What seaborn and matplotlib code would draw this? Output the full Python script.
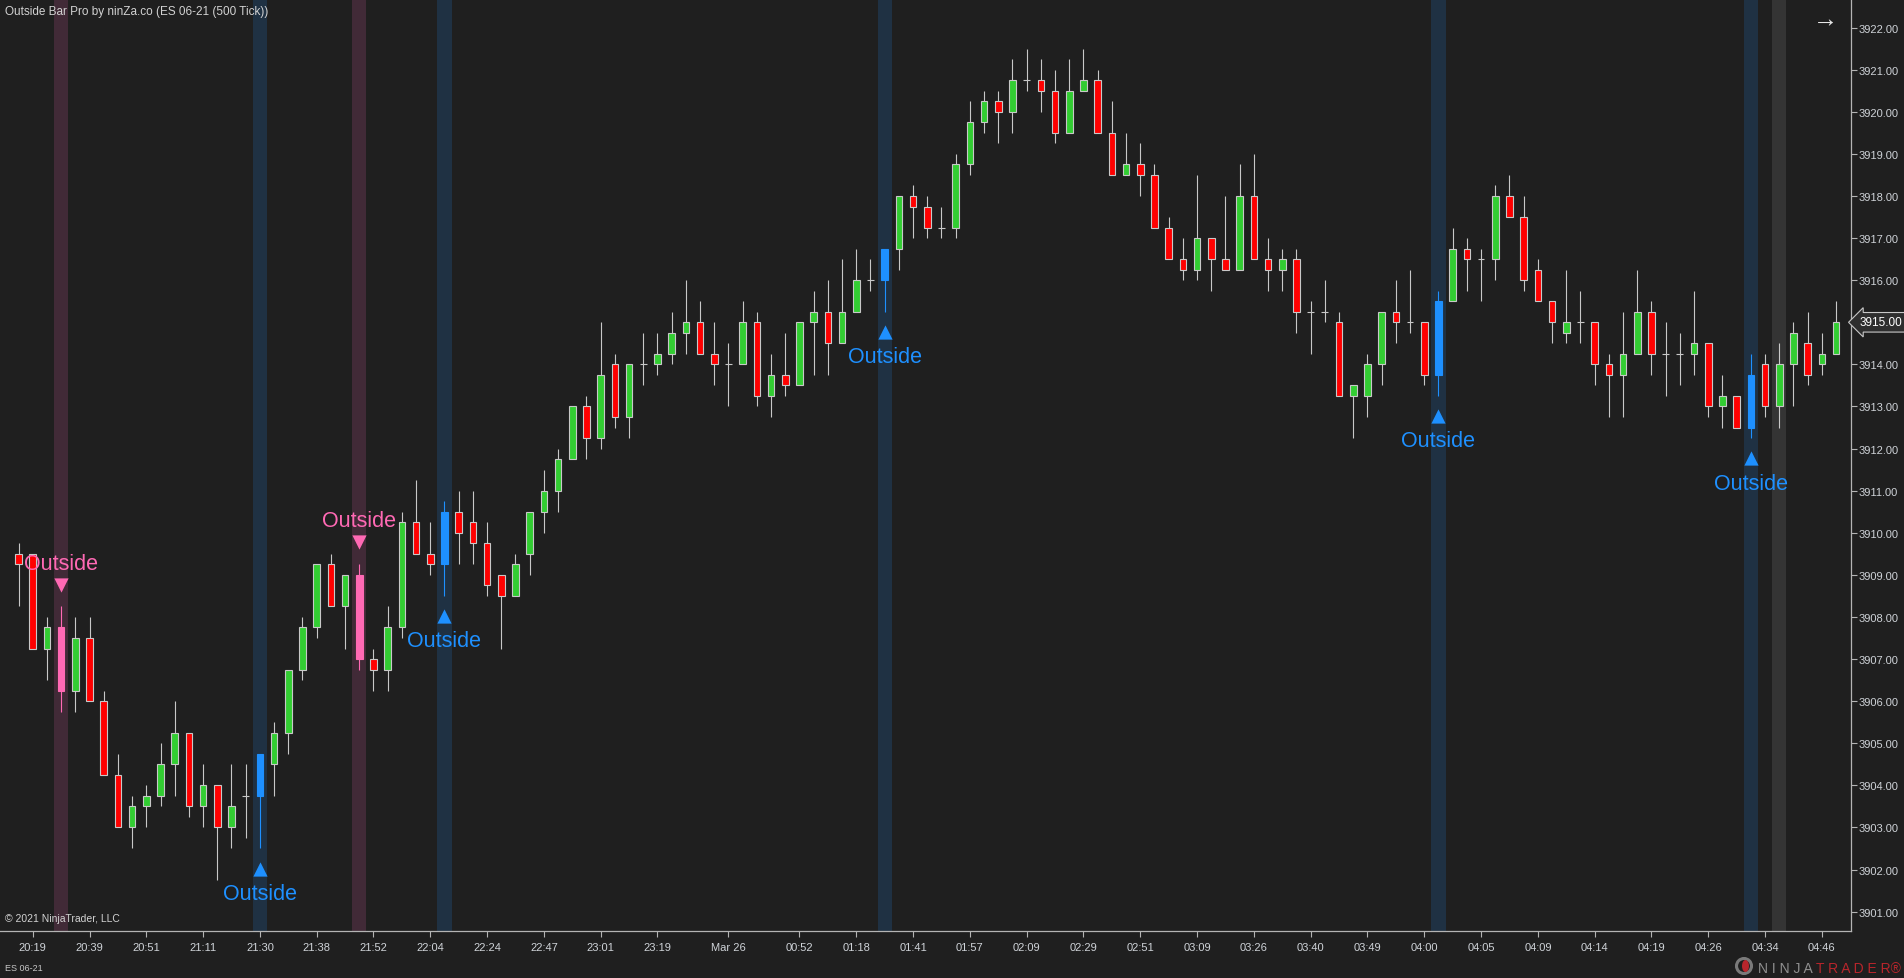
import matplotlib
matplotlib.use("Agg")
import matplotlib.pyplot as plt
import matplotlib.transforms as mtransforms
import matplotlib.patches as mpatches
import numpy as np
import pandas as pd
import seaborn as sns

# ES 06-21, 500 tick bars
opens = [3909.5, 3909.5, 3907.25, 3907.75, 3906.25, 3907.5, 3906.0, 3904.25, 3903.0, 3903.5,
         3903.75, 3904.5, 3905.25, 3903.5, 3904.0, 3903.0, 3903.75, 3903.75, 3904.5, 3905.25,
         3906.75, 3907.75, 3909.25, 3908.25, 3909.0, 3907.0, 3906.75, 3907.75, 3910.25, 3909.5,
         3909.25, 3910.5, 3910.25, 3909.75, 3909.0, 3908.5, 3909.5, 3910.5, 3911.0, 3911.75,
         3913.0, 3912.25, 3914.0, 3912.75, 3914.0, 3914.0, 3914.25, 3914.75, 3915.0, 3914.25,
         3914.0, 3914.0, 3915.0, 3913.25, 3913.75, 3913.5, 3915.0, 3915.25, 3914.5, 3915.25,
         3916.0, 3916.0, 3916.75, 3918.0, 3917.75, 3917.25, 3917.25, 3918.75, 3919.75, 3920.25,
         3920.0, 3920.75, 3920.75, 3920.5, 3919.5, 3920.5, 3920.75, 3919.5, 3918.5, 3918.75,
         3918.5, 3917.25, 3916.5, 3916.25, 3917.0, 3916.5, 3916.25, 3918.0, 3916.5, 3916.25,
         3916.5, 3915.25, 3915.25, 3915.0, 3913.25, 3913.25, 3914.0, 3915.25, 3915.0, 3915.0,
         3913.75, 3915.5, 3916.75, 3916.5, 3916.5, 3918.0, 3917.5, 3916.25, 3915.5, 3914.75,
         3915.0, 3915.0, 3914.0, 3913.75, 3914.25, 3915.25, 3914.25, 3914.25, 3914.25, 3914.5,
         3913.0, 3913.25, 3912.5, 3914.0, 3913.0, 3914.0, 3914.5, 3914.0, 3914.25]
highs = [3909.75, 3909.5, 3908.0, 3908.25, 3908.0, 3908.0, 3906.25, 3904.75, 3903.75, 3904.0,
         3905.0, 3906.0, 3905.25, 3904.5, 3904.0, 3904.5, 3904.5, 3904.75, 3905.5, 3906.75,
         3908.0, 3909.25, 3909.5, 3909.0, 3909.25, 3907.25, 3908.25, 3910.5, 3911.25, 3910.25,
         3910.75, 3911.0, 3911.0, 3910.25, 3909.0, 3909.5, 3910.5, 3911.5, 3912.0, 3913.0,
         3913.25, 3915.0, 3914.25, 3914.0, 3914.75, 3914.75, 3915.25, 3916.0, 3915.5, 3915.0,
         3914.5, 3915.5, 3915.25, 3914.25, 3914.75, 3915.0, 3915.75, 3916.0, 3916.5, 3916.75,
         3916.5, 3916.75, 3918.0, 3918.25, 3918.0, 3917.75, 3919.0, 3920.25, 3920.5, 3920.5,
         3921.25, 3921.5, 3921.25, 3921.0, 3921.25, 3921.5, 3921.0, 3920.25, 3919.5, 3919.25,
         3918.75, 3917.5, 3917.0, 3918.5, 3917.0, 3918.0, 3918.75, 3919.0, 3917.0, 3916.75,
         3916.75, 3915.5, 3916.0, 3915.25, 3913.5, 3914.25, 3915.25, 3916.0, 3916.25, 3915.0,
         3915.75, 3917.25, 3917.0, 3916.75, 3918.25, 3918.5, 3918.0, 3916.5, 3915.5, 3916.25,
         3915.75, 3915.0, 3914.25, 3915.25, 3916.25, 3915.5, 3915.0, 3914.75, 3915.75, 3914.5,
         3913.75, 3913.25, 3914.25, 3914.25, 3914.5, 3915.0, 3915.25, 3914.75, 3915.5]
lows = [3908.25, 3907.25, 3906.5, 3905.75, 3905.75, 3906.0, 3904.25, 3903.0, 3902.5, 3903.0,
        3903.5, 3903.75, 3903.25, 3903.0, 3901.75, 3902.5, 3902.75, 3902.5, 3903.75, 3904.75,
        3906.5, 3907.5, 3908.25, 3907.25, 3906.75, 3906.25, 3906.25, 3907.5, 3909.5, 3909.0,
        3908.5, 3909.25, 3909.25, 3908.5, 3907.25, 3908.5, 3909.0, 3910.0, 3910.5, 3911.75,
        3911.75, 3912.0, 3912.5, 3912.25, 3913.5, 3913.75, 3914.0, 3914.25, 3914.25, 3913.5,
        3913.0, 3914.0, 3913.0, 3912.75, 3913.25, 3913.5, 3913.75, 3913.75, 3914.5, 3915.25,
        3915.75, 3915.25, 3916.25, 3917.0, 3917.0, 3917.0, 3917.0, 3918.5, 3919.5, 3919.25,
        3919.5, 3920.5, 3920.0, 3919.25, 3919.5, 3920.5, 3919.5, 3918.5, 3918.5, 3918.0,
        3917.25, 3916.5, 3916.0, 3916.0, 3915.75, 3916.25, 3916.25, 3916.5, 3915.75, 3915.75,
        3914.75, 3914.25, 3915.0, 3913.25, 3912.25, 3912.75, 3913.5, 3914.5, 3914.75, 3913.5,
        3913.25, 3915.5, 3915.75, 3915.5, 3916.0, 3917.5, 3915.75, 3915.5, 3914.5, 3914.5,
        3914.5, 3913.5, 3912.75, 3912.75, 3914.25, 3913.75, 3913.25, 3913.5, 3913.75, 3912.75,
        3912.5, 3912.5, 3912.25, 3912.75, 3912.5, 3913.0, 3913.5, 3913.75, 3914.25]
closes = [3909.25, 3907.25, 3907.75, 3906.25, 3907.5, 3906.0, 3904.25, 3903.0, 3903.5, 3903.75,
          3904.5, 3905.25, 3903.5, 3904.0, 3903.0, 3903.5, 3903.75, 3904.75, 3905.25, 3906.75,
          3907.75, 3909.25, 3908.25, 3909.0, 3907.0, 3906.75, 3907.75, 3910.25, 3909.5, 3909.25,
          3910.5, 3910.0, 3909.75, 3908.75, 3908.5, 3909.25, 3910.5, 3911.0, 3911.75, 3913.0,
          3912.25, 3913.75, 3912.75, 3914.0, 3914.0, 3914.25, 3914.75, 3915.0, 3914.25, 3914.0,
          3914.0, 3915.0, 3913.25, 3913.75, 3913.5, 3915.0, 3915.25, 3914.5, 3915.25, 3916.0,
          3916.0, 3916.75, 3918.0, 3917.75, 3917.25, 3917.25, 3918.75, 3919.75, 3920.25, 3920.0,
          3920.75, 3920.75, 3920.5, 3919.5, 3920.5, 3920.75, 3919.5, 3918.5, 3918.75, 3918.5,
          3917.25, 3916.5, 3916.25, 3917.0, 3916.5, 3916.25, 3918.0, 3916.5, 3916.25, 3916.5,
          3915.25, 3915.25, 3915.25, 3913.25, 3913.5, 3914.0, 3915.25, 3915.0, 3915.0, 3913.75,
          3915.5, 3916.75, 3916.5, 3916.5, 3918.0, 3917.5, 3916.0, 3915.5, 3915.0, 3915.0,
          3915.0, 3914.0, 3913.75, 3914.25, 3915.25, 3914.25, 3914.25, 3914.25, 3914.5, 3913.0,
          3913.25, 3912.5, 3913.75, 3913.0, 3914.0, 3914.75, 3913.75, 3914.25, 3915.0]

# outside bar signals (bar index)
up_signals = [17, 30, 61, 100, 122]
down_signals = [3, 24]
gray_bars = [124]

tick_bars = [1, 5, 9, 13, 17, 21, 25, 29, 33, 37, 41, 45, 50, 55, 59, 63,
             67, 71, 75, 79, 83, 87, 91, 95, 99, 103, 107, 111, 115, 119, 123, 127]
tick_labels = ["20:19", "20:39", "20:51", "21:11", "21:30", "21:38", "21:52", "22:04",
               "22:24", "22:47", "23:01", "23:19", "Mar 26", "00:52", "01:18", "01:41",
               "01:57", "02:09", "02:29", "02:51", "03:09", "03:26", "03:40", "03:49",
               "04:00", "04:05", "04:09", "04:14", "04:19", "04:26", "04:34", "04:46"]
price_ticks = list(range(3901, 3923))

BG = "#1f1f1f"
UP = "#32cd32"
DOWN = "#ff0000"
WICK = "#c8c8c8"
PINK = "#ff69b4"
BLUE = "#1e90ff"
TXT = "#cfd3d8"

df = pd.DataFrame({"open": opens, "high": highs, "low": lows, "close": closes})
df["bar"] = np.arange(len(df))

face = np.where(df.close > df.open, UP, DOWN).astype(object)
edge = np.array([WICK] * len(df), dtype=object)
wick = np.array([WICK] * len(df), dtype=object)
for i in up_signals:
    face[i] = edge[i] = wick[i] = BLUE
for i in down_signals:
    face[i] = edge[i] = wick[i] = PINK

sns.set_theme(style="dark", rc={"axes.facecolor": BG, "figure.facecolor": BG,
                                "savefig.facecolor": BG})
plt.rcParams["font.family"] = ["Liberation Sans", "DejaVu Sans"]

W, H = 1904, 979
fig = plt.figure(figsize=(W / 100, H / 100), dpi=100)
ax = fig.add_axes([0, 47 / H, 1850.7 / W, 932 / H])
ax.set_facecolor(BG)

# signal bands
for i in up_signals:
    ax.axvspan(i - 0.5, i + 0.5, color="#1f3143", lw=0, zorder=0)
for i in down_signals:
    ax.axvspan(i - 0.5, i + 0.5, color="#412a37", lw=0, zorder=0)
for i in gray_bars:
    ax.axvspan(i - 0.5, i + 0.5, color="#343434", lw=0, zorder=0)

# wicks
ax.vlines(df.bar, df.low, df.high, colors=list(wick), lw=0.8, zorder=2)

# bodies
body = df[df.close != df.open]
ax.bar(body.bar, (body.close - body.open).abs(), bottom=body[["open", "close"]].min(axis=1),
       width=0.47, color=list(face[body.index]), edgecolor=list(edge[body.index]),
       linewidth=0.8, zorder=3)
doji = df[df.close == df.open]
ax.hlines(doji.close, doji.bar - 0.24, doji.bar + 0.24, colors=WICK, lw=0.8, zorder=3)

# markers + labels
ups = df.loc[up_signals]
downs = df.loc[down_signals]
sns.scatterplot(x=ups.bar, y=ups.low - 0.48, marker="^", s=105, color=BLUE,
                linewidth=0, ax=ax, legend=False, zorder=5)
sns.scatterplot(x=downs.bar, y=downs.high + 0.52, marker="v", s=105, color=PINK,
                linewidth=0, ax=ax, legend=False, zorder=5)
for b, lo in zip(ups.bar, ups.low):
    ax.text(b, lo - 1.2, "Outside", color=BLUE, fontsize=15.5, ha="center",
            va="baseline", zorder=6)
for b, hi in zip(downs.bar, downs.high):
    ax.text(b, hi + 0.9, "Outside", color=PINK, fontsize=15.5, ha="center",
            va="baseline", zorder=6)

ax.set_xlim(-1.303, 129.03)
ax.set_ylim(3900.54, 3922.68)
ax.grid(False)
ax.set_xlabel("")
ax.set_ylabel("")

last = closes[-1]
ax.set_xticks(tick_bars)
ax.set_xticklabels(tick_labels)
ax.yaxis.tick_right()
ax.set_yticks(price_ticks)
# the last price is shown in its own flag, so its plain tick label is left blank
ax.yaxis.set_major_formatter(lambda v, p: "" if abs(v - last) < 1e-9 else f"{v:.2f}")
ax.tick_params(axis="x", direction="out", length=4, width=0.8, color="#b4b4b4",
               labelcolor=TXT, labelsize=8, pad=4)
ax.tick_params(axis="y", direction="out", length=4, width=0.8, color="#b4b4b4",
               labelcolor=TXT, labelsize=8, pad=2)
ax.tick_params(bottom=True, right=True, left=False, top=False)
for side in ["top", "left"]:
    ax.spines[side].set_visible(False)
for side in ["right", "bottom"]:
    ax.spines[side].set_visible(True)
    ax.spines[side].set_color("#b4b4b4")
    ax.spines[side].set_linewidth(0.9)

# last price flag
trans = mtransforms.blended_transform_factory(ax.transAxes, ax.transData)
ax.text(1.0047, last, f"{last:.2f}", transform=trans, ha="left", va="center",
        fontsize=8.5, color="white", clip_on=False, zorder=10,
        bbox=dict(boxstyle="larrow,pad=0.32", fc="#2e2e2e", ec="#c8c8c8", lw=0.8))

# header / footer text
fig.text(5 / W, 1 - 12 / H, "Outside Bar Pro by ninZa.co (ES 06-21 (500 Tick))",
         color="#d2d2d2", fontsize=8.5, ha="left", va="center")
fig.text(1825 / W, 1 - 20 / H, "→", color="#e6e6e6", fontsize=18, ha="center", va="center")
fig.text(5 / W, 1 - 919 / H, "© 2021 NinjaTrader, LLC", color="#d2d2d2", fontsize=7.5,
         ha="left", va="center")
fig.text(5 / W, 1 - 969 / H, "ES 06-21", color="#c8c8c8", fontsize=6.5, ha="left", va="center")

# NinjaTrader logo
t2 = fig.text(1901 / W, 1 - 969 / H, "T R A D E R®", color="#b8262c", fontsize=10,
              ha="right", va="center")
t1 = ax.annotate("N I N J A ", xy=(0, 0.5), xycoords=t2, ha="right", va="center",
                 color="#8f8f8f", fontsize=10, annotation_clip=False)
logo_x, logo_y = 1744 / W, 1 - 967 / H
fig.add_artist(mpatches.Ellipse((logo_x, logo_y), 15 / W, 15 / H, fill=False,
                                ec="#7a7a7a", lw=2.2, transform=fig.transFigure))
fig.add_artist(mpatches.Ellipse((logo_x + 1.5 / W, logo_y), 7 / W, 12 / H, fill=True,
                                fc="#b8262c", ec="none", transform=fig.transFigure))

fig.savefig("out.png", dpi=100, facecolor=BG)
